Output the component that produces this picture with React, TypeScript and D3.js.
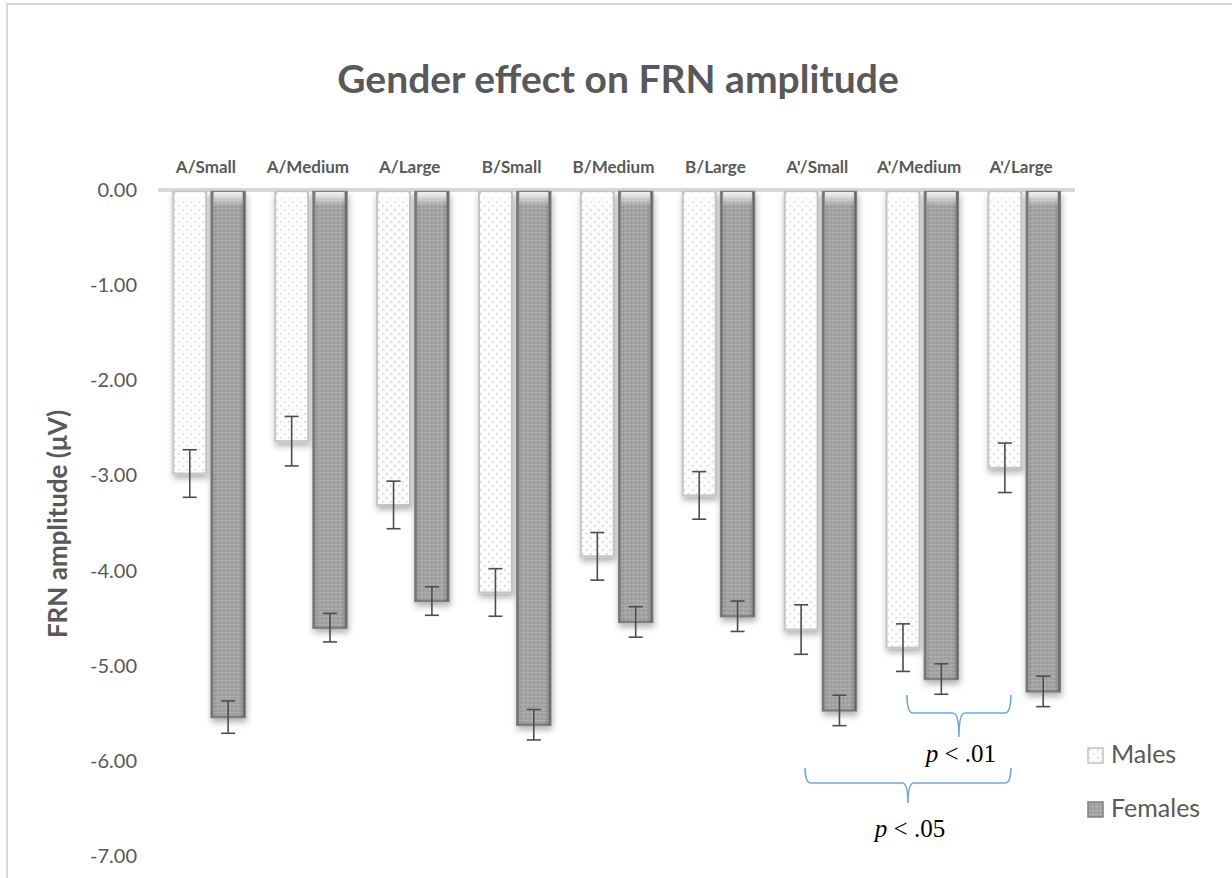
import React, { useEffect } from "react";
import * as d3 from "d3";

const categories = ["A/Small", "A/Medium", "A/Large", "B/Small", "B/Medium", "B/Large", "A'/Small", "A'/Medium", "A'/Large"];
const series = ["Males", "Females"];
const males = [-2.98, -2.64, -3.31, -4.23, -3.85, -3.21, -4.62, -4.81, -2.92];
const malesSE = [0.25, 0.26, 0.25, 0.25, 0.25, 0.25, 0.26, 0.25, 0.26];
const females = [-5.54, -4.6, -4.32, -5.62, -4.54, -4.48, -5.47, -5.14, -5.27];
const femalesSE = [0.17, 0.15, 0.15, 0.16, 0.16, 0.16, 0.16, 0.16, 0.16];
const yTicks = [0, -1, -2, -3, -4, -5, -6, -7];

const W = 1232;
const H = 878;
const grey = "#595959";
const bracketBlue = "#6fa8dc";

// hyphen instead of d3's unicode minus, like the original
const fmt = (v: number) => d3.format(".2f")(v).replace("−", "-");

const App = () => {
  useEffect(() => {
    document.body.style.margin = "0";
  }, []);

  const x = d3.scaleBand().domain(categories).range([158, 1075]).paddingInner(0.3).paddingOuter(0.15);
  const xs = d3.scaleBand().domain(series).range([0, x.bandwidth()]).paddingInner(0.14);
  const y = d3.scaleLinear().domain([-7, 0]).range([856, 190]);

  const rows = categories.map((c, i) => ({
    c,
    vals: [
      { s: "Males", v: males[i], se: malesSE[i] },
      { s: "Females", v: females[i], se: femalesSE[i] },
    ],
  }));

  // curly brace between x0 and x1, opening downward to a tip
  const brace = (x0: number, x1: number, yTop: number, yMid: number, yTip: number) => {
    const m = (x0 + x1) / 2;
    const p = d3.path();
    p.moveTo(x0, yTop);
    p.quadraticCurveTo(x0, yMid, x0 + 6, yMid);
    p.lineTo(m - 6, yMid);
    p.quadraticCurveTo(m, yMid, m, yTip);
    p.quadraticCurveTo(m, yMid, m + 6, yMid);
    p.lineTo(x1 - 6, yMid);
    p.quadraticCurveTo(x1, yMid, x1, yTop);
    return p.toString();
  };

  const maleCenter = (c: string) => (x(c) as number) + (xs("Males") as number) + xs.bandwidth() / 2;
  const sigBars = [
    { from: "A'/Medium", to: "A'/Large", yTop: 695, yMid: 713, yTip: 737, label: ".01", ly: 762 },
    { from: "A'/Small", to: "A'/Large", yTop: 768, yMid: 783, yTip: 803, label: ".05", ly: 837 },
  ];

  return (
    <svg width={W} height={H} style={{ display: "block" }} fontFamily="Lato, 'Open Sans', sans-serif">
      <defs>
        <pattern id="dots" width="8" height="8" patternUnits="userSpaceOnUse">
          <rect width="8" height="8" fill="#fcfcfc" />
          <rect x="1" y="1" width="1.5" height="1.5" fill="#c8c8c8" />
          <rect x="5" y="5" width="1.5" height="1.5" fill="#d0d0d0" />
        </pattern>
        <pattern id="grid" width="4" height="4" patternUnits="userSpaceOnUse">
          <rect width="4" height="4" fill="#a4a4a4" />
          <rect x="0" y="0" width="2" height="1" fill="#b4b4b4" />
          <rect x="2" y="2" width="1" height="2" fill="#959595" />
        </pattern>
        <linearGradient id="fedge" x1="0" x2="1" y1="0" y2="0">
          <stop offset="0" stopColor="#000" stopOpacity="0.12" />
          <stop offset="0.15" stopColor="#000" stopOpacity="0" />
          <stop offset="0.85" stopColor="#000" stopOpacity="0" />
          <stop offset="1" stopColor="#000" stopOpacity="0.25" />
        </linearGradient>
        <linearGradient id="bevel" x1="0" x2="0" y1="0" y2="1">
          <stop offset="0" stopColor="#fff" stopOpacity="0.9" />
          <stop offset="1" stopColor="#fff" stopOpacity="0" />
        </linearGradient>
        <filter id="shadow" x="-30%" y="-5%" width="160%" height="115%">
          <feDropShadow dx="1" dy="4" stdDeviation="3" floodColor="#000" floodOpacity="0.3" />
        </filter>
      </defs>

      <rect x={7} y={4} width={W + 10} height={H + 10} fill="#fff" stroke="#d9d9d9" strokeWidth={2} />

      <text x={618} y={93} textAnchor="middle" fontSize={39} fontWeight="bold" fill={grey}>
        Gender effect on FRN amplitude
      </text>

      {yTicks.map((t) => (
        <text key={t} x={137} y={y(t) + 7} textAnchor="end" fontSize={20} fill={grey}>
          {fmt(t)}
        </text>
      ))}

      <text transform="translate(67,524) rotate(-90)" textAnchor="middle" fontSize={26} fontWeight="bold" fill={grey}>
        FRN amplitude (μV)
      </text>

      <line x1={158} x2={1075} y1={y(0)} y2={y(0)} stroke="#d9d9d9" strokeWidth={4} />

      {categories.map((c) => (
        <text key={c} x={(x(c) as number) + x.bandwidth() / 2 - 3} y={173} textAnchor="middle" fontSize={17} fontWeight="bold" fill={grey}>
          {c}
        </text>
      ))}

      {rows.map((r) => (
        <g key={r.c} transform={`translate(${x(r.c)},0)`}>
          {r.vals.map((d) => {
            const bx = xs(d.s) as number;
            const bw = xs.bandwidth();
            const y0 = y(0) + 2;
            const y1 = y(d.v);
            const male = d.s === "Males";
            return (
              <g key={d.s}>
                <rect
                  x={bx}
                  y={y0}
                  width={bw}
                  height={y1 - y0}
                  fill={male ? "url(#dots)" : "url(#grid)"}
                  stroke={male ? "#c4c4c4" : "#7f7f7f"}
                  strokeWidth={male ? 2 : 2.5}
                  filter="url(#shadow)"
                />
                {!male && <rect x={bx} y={y0} width={bw} height={y1 - y0} fill="url(#fedge)" />}
                <rect x={bx + 2} y={y0} width={bw - 4} height={14} fill="url(#bevel)" />
              </g>
            );
          })}
          {r.vals.map((d) => {
            const ex = (xs(d.s) as number) + xs.bandwidth() / 2;
            const yt = y(d.v + d.se);
            const yb = y(d.v - d.se);
            return (
              <g key={d.s + "e"} stroke="#4d4d4d" strokeWidth={1.6}>
                <line x1={ex} x2={ex} y1={yt} y2={yb} />
                <line x1={ex - 7} x2={ex + 7} y1={yt} y2={yt} />
                <line x1={ex - 7} x2={ex + 7} y1={yb} y2={yb} />
              </g>
            );
          })}
        </g>
      ))}

      {sigBars.map((b) => {
        const x0 = maleCenter(b.from) + 4;
        const x1 = maleCenter(b.to) + 6;
        const m = (x0 + x1) / 2;
        return (
          <g key={b.label}>
            <path d={brace(x0, x1, b.yTop, b.yMid, b.yTip)} fill="none" stroke={bracketBlue} strokeWidth={1.6} />
            <text x={m + 2} y={b.ly} textAnchor="middle" fontFamily="'Liberation Serif', 'DejaVu Serif', serif" fontSize={25} fill="#000">
              <tspan fontStyle="italic">p</tspan>
              <tspan> &lt; {b.label}</tspan>
            </text>
          </g>
        );
      })}

      {series.map((s, i) => (
        <g key={s} transform={`translate(1088,${748 + i * 54})`}>
          <rect
            x={0}
            y={0}
            width={15}
            height={15}
            fill={i === 0 ? "url(#dots)" : "url(#grid)"}
            stroke={i === 0 ? "#c4c4c4" : "#7f7f7f"}
            strokeWidth={1.5}
          />
          <text x={23} y={15} fontSize={25} fill={grey}>
            {s}
          </text>
        </g>
      ))}
    </svg>
  );
};

export default App;
